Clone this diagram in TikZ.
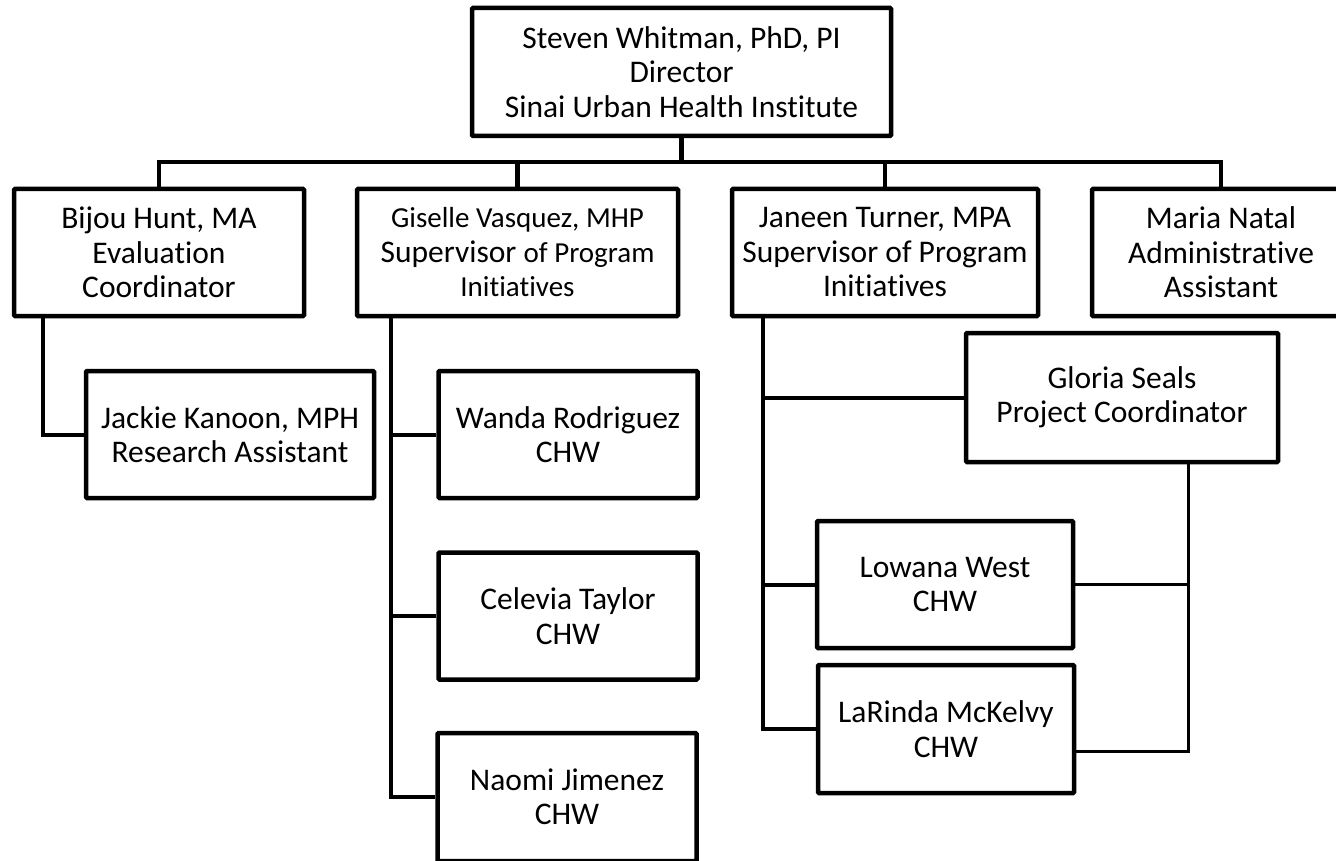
\documentclass[tikz,border=0pt]{standalone}
\usepackage{fontspec}
\setmainfont{Carlito}[Ligatures=NoCommon]
\begin{document}
\begin{tikzpicture}[x=1pt,y=-1pt,
  box/.style={draw, line width=4.5pt, rounded corners=1pt, inner sep=0pt,
    align=center, font=\fontsize{31.5}{34.5}\selectfont, minimum height=127pt},
  link/.style={line width=4.5pt, line join=miter},
  sublink/.style={line width=4pt, line join=miter},
  thinlink/.style={line width=3pt, line join=miter}]
\useasboundingbox (0,0) rectangle (1336,861);
\clip (0,0) rectangle (1336,861);

% Director
\node[box, minimum width=419pt, minimum height=128pt] (dir) at (681.5,72)
  {Steven Whitman, PhD, PI\\Director\\Sinai Urban Health Institute};

% Second level
\node[box, minimum width=290pt] (bijou) at (159,252.5)
  {Bijou Hunt, MA\\Evaluation\\Coordinator};
\node[box, minimum width=321pt] (giselle) at (517.5,252.5)
  {{\fontsize{29}{34.5}\selectfont Giselle Vasquez, MHP}\\
   Supervisor {\fontsize{29}{34.5}\selectfont of Program}\\
   {\fontsize{29}{34.5}\selectfont Initiatives}};
\node[box, minimum width=306pt] (janeen) at (885,252.5)
  {Janeen Turner, MPA\\Supervisor of Program\\Initiatives};
\node[box, minimum width=258pt] (maria) at (1221,252.5)
  {Maria Natal\\Administrative\\Assistant};

% Third level
\node[box, minimum width=288pt] (jackie) at (230,434.5)
  {Jackie Kanoon, MPH\\Research Assistant};
\node[box, minimum width=259pt] (wanda) at (568,434.5)
  {Wanda Rodriguez\\CHW};
\node[box, minimum width=259pt] (celevia) at (568,616)
  {Celevia Taylor\\CHW};
\node[box, minimum width=259pt, minimum height=128pt] (naomi) at (567,797)
  {Naomi Jimenez\\CHW};
\node[box, minimum width=312pt, minimum height=129pt] (gloria) at (1122,397.5)
  {Gloria Seals\\Project Coordinator};
\node[box, minimum width=256pt] (lowana) at (945,584.5)
  {Lowana West\\CHW};
\node[box, minimum width=256pt, minimum height=128pt] (larinda) at (946,729)
  {LaRinda McKelvy\\CHW};

% Vertical stems
\coordinate (bus) at (681.5,162);
\coordinate (stemA) at (43,0);
\coordinate (stemB) at (391,0);
\coordinate (stemC) at (763,0);
\coordinate (gend) at (1188,751);

% Director to second level
\draw[link] (dir.south) -- (bus);
\draw[link] (bijou.north) |- (bus) -| (maria.north);
\draw[link] (giselle.north) -- (giselle.north |- bus);
\draw[link] (janeen.north) -- (janeen.north |- bus);

% Evaluation branch
\draw[sublink] (bijou.south -| stemA) |- (jackie.west);

% Giselle's team
\draw[link] (giselle.south -| stemB) |- (naomi.west);
\draw[sublink] (wanda.west) -- (wanda.west -| stemB);
\draw[sublink] (celevia.west) -- (celevia.west -| stemB);

% Janeen's team
\draw[link] (janeen.south -| stemC) |- (larinda.west);
\draw[sublink] (gloria.west) -- (gloria.west -| stemC);
\draw[sublink] (lowana.west) -- (lowana.west -| stemC);

% Project coordinator to CHWs
\draw[thinlink] (gloria.south -| gend) -- (gend) -- (larinda.east |- gend);
\draw[thinlink] (lowana.east) -- (lowana.east -| gend);
\end{tikzpicture}
\end{document}
